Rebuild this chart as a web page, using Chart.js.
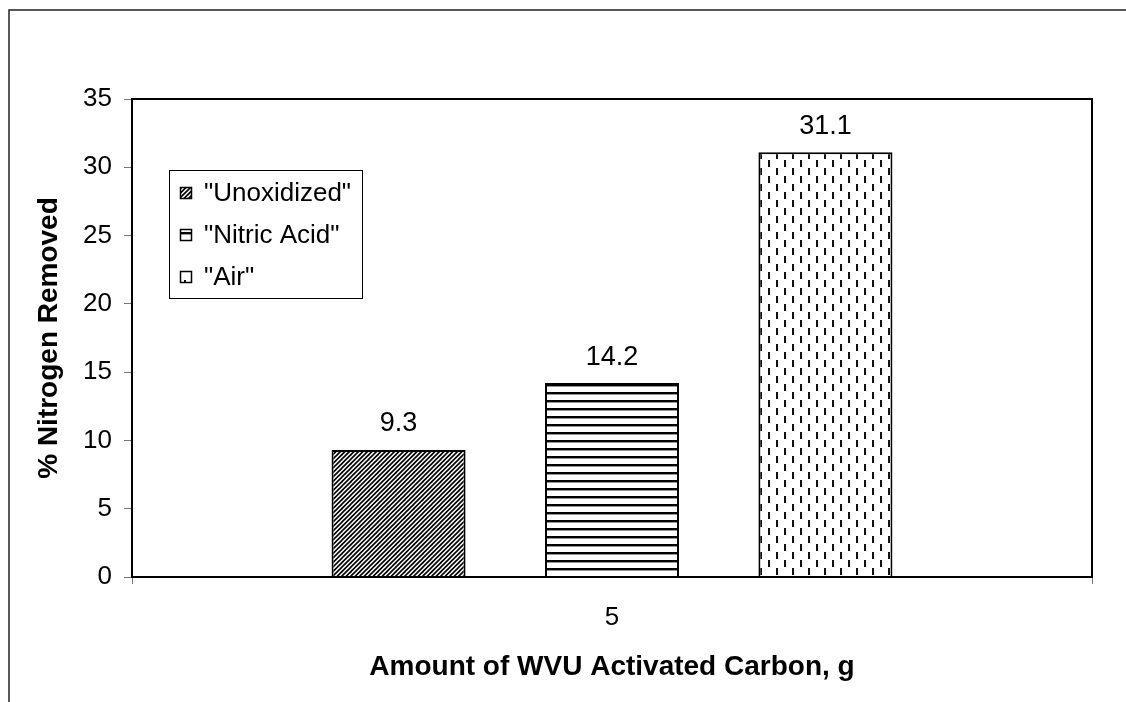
<!DOCTYPE html>
<html><head><meta charset="utf-8">
<script src="https://cdn.jsdelivr.net/npm/chart.js@4/dist/chart.umd.min.js"></script>
<style>html,body{margin:0;padding:0;background:#fff;overflow:hidden}#wrap{width:1126px;height:702px;position:relative}</style>
</head><body><div id="wrap"><canvas id="c" width="1126" height="702"></canvas></div>
<script>
const categories = ['5'];
const seriesNames = ['"Unoxidized"', '"Nitric Acid"', '"Air"'];
const unoxidized = [9.3];
const nitricAcid = [14.2];
const air = [31.1];
const yTicks = [0, 5, 10, 15, 20, 25, 30, 35];
const xTitle = 'Amount of WVU Activated Carbon, g';
const yTitle = '% Nitrogen Removed';

const FONT = "'Liberation Sans', Arial, sans-serif";

function makePattern(kind) {
  const c = document.createElement('canvas');
  const g = c.getContext('2d');
  if (kind === 'diag') {
    c.width = 9; c.height = 9;
    g.fillStyle = '#fff'; g.fillRect(0, 0, 9, 9);
    g.strokeStyle = '#000'; g.lineWidth = 1.6;
    for (const k of [-9, -4.5, 0, 4.5, 9]) {
      g.beginPath(); g.moveTo(k - 1, 10); g.lineTo(k + 10, -1); g.stroke();
    }
  } else if (kind === 'horiz') {
    c.width = 8; c.height = 8;
    g.fillStyle = '#fff'; g.fillRect(0, 0, 8, 8);
    g.fillStyle = '#000'; g.fillRect(0, 0, 8, 2);
    g.fillStyle = '#999'; g.fillRect(0, 2, 8, 1);
  } else {
    c.width = 16; c.height = 16;
    g.fillStyle = '#fff'; g.fillRect(0, 0, 16, 16);
    g.fillStyle = '#111';
    g.fillRect(0, 0, 2, 7);
    g.fillRect(8, 8, 2, 7);
  }
  return g.createPattern(c, 'repeat');
}
const ctx = document.getElementById('c').getContext('2d');
const patterns = [makePattern('diag'), makePattern('horiz'), makePattern('dash')];

const framePlugin = {
  id: 'frame',
  beforeDraw(chart) {
    const g = chart.ctx;
    g.save();
    g.fillStyle = '#fff'; g.fillRect(0, 0, chart.width, chart.height);
    g.strokeStyle = '#222'; g.lineWidth = 1.5;
    g.strokeRect(9, 10, 1400, 1000);
    g.restore();
  },
  afterDatasetsDraw(chart) {
    const g = chart.ctx;
    const a = chart.chartArea;
    g.save();
    g.strokeStyle = '#000'; g.lineWidth = 2;
    g.strokeRect(a.left, a.top, a.right - a.left, a.bottom - a.top);
    // data labels
    g.fillStyle = '#000';
    g.font = '27px ' + FONT;
    g.textAlign = 'center'; g.textBaseline = 'middle';
    chart.data.datasets.forEach((ds, i) => {
      const meta = chart.getDatasetMeta(i);
      meta.data.forEach((bar, j) => {
        g.fillText(String(ds.data[j]), bar.x, bar.y - 26);
      });
    });
    // legend
    const lx = 169, ly = 170, lw = 193, lh = 128;
    g.fillStyle = '#fff';
    g.fillRect(lx, ly, lw, lh);
    g.strokeStyle = '#000'; g.lineWidth = 1;
    g.strokeRect(lx + 0.5, ly + 0.5, lw, lh);
    const rows = [193, 235, 277];
    chart.data.datasets.forEach((ds, i) => {
      const cy = rows[i];
      g.fillStyle = patterns[i];
      g.fillRect(180, cy - 6, 12, 12);
      g.strokeStyle = '#000'; g.lineWidth = 1.5;
      g.strokeRect(180.5, cy - 5.5, 11, 11);
      g.fillStyle = '#000';
      g.font = '26px ' + FONT;
      g.textAlign = 'left'; g.textBaseline = 'middle';
      g.fillText(ds.label, 204, cy + 1);
    });
    g.restore();
  }
};

new Chart(ctx, {
  type: 'bar',
  data: {
    labels: categories,
    datasets: [
      { label: seriesNames[0], data: unoxidized, backgroundColor: patterns[0], borderColor: '#000', borderWidth: 2 },
      { label: seriesNames[1], data: nitricAcid, backgroundColor: patterns[1], borderColor: '#000', borderWidth: 2 },
      { label: seriesNames[2], data: air, backgroundColor: patterns[2], borderColor: '#000', borderWidth: 2 }
    ]
  },
  options: {
    responsive: false,
    animation: false,
    devicePixelRatio: 1,
    layout: { padding: { top: 99, right: 34, left: 0, bottom: 0 } },
    datasets: { bar: { categoryPercentage: 0.667, barPercentage: 0.628 } },
    plugins: { legend: { display: false }, tooltip: { enabled: false } },
    scales: {
      x: {
        grid: { drawOnChartArea: false, tickLength: 7, color: '#777', offset: true },
        border: { display: false },
        ticks: { font: { family: FONT, size: 26 }, color: '#000', padding: 18 },
        title: { display: true, text: xTitle, color: '#000', font: { family: FONT, size: 28, weight: 'bold' }, padding: { top: 0, bottom: 18 } },
        afterFit(s) { s.height = 125; }
      },
      y: {
        min: 0, max: 35,
        afterBuildTicks(s) { s.ticks = yTicks.map(v => ({ value: v })); },
        grid: { drawOnChartArea: false, tickLength: 8, color: '#777' },
        border: { display: false },
        ticks: { font: { family: FONT, size: 26 }, color: '#000', padding: 12 },
        title: { display: true, text: yTitle, color: '#000', font: { family: FONT, size: 28, weight: 'bold' }, padding: { top: 32, bottom: 0 } },
        afterFit(s) { s.width = 132; }
      }
    }
  },
  plugins: [framePlugin]
});
</script>
</body></html>
